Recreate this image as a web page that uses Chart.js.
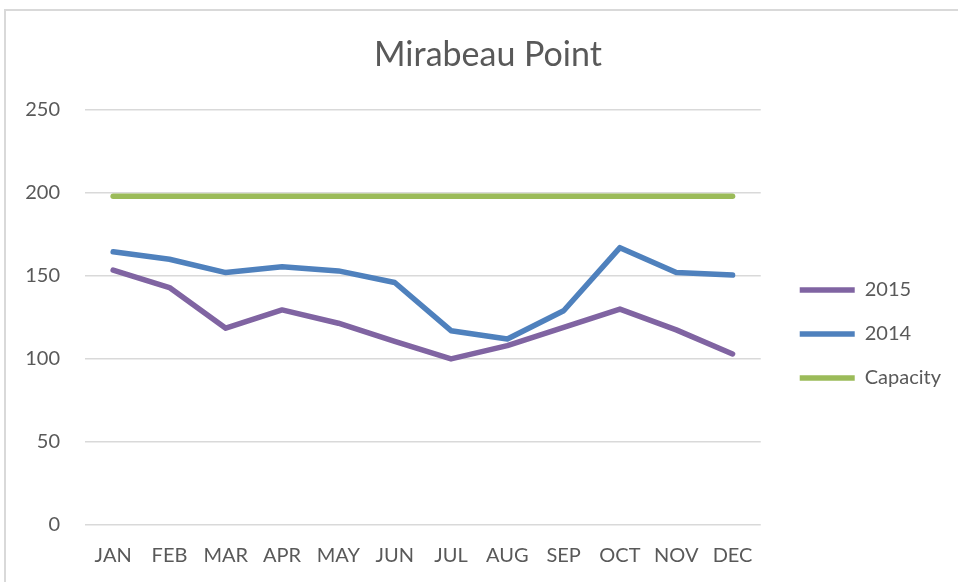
<!DOCTYPE html>
<html>
<head>
<meta charset="utf-8">
<script src="https://cdn.jsdelivr.net/npm/chart.js@4"></script>
<style>
  html, body { margin: 0; padding: 0; background: #fff; overflow: hidden; }
  #frame { position: absolute; left: 4px; top: 9px; width: 1000px; height: 600px;
           border-left: 2px solid #d9d9d9; border-top: 2px solid #d9d9d9; }
  #wrap { position: absolute; left: 0; top: 0; width: 958px; height: 582px; }
</style>
</head>
<body>
<div id="frame"></div>
<div id="wrap"><canvas id="chart"></canvas></div>
<script>
  const months = ["JAN", "FEB", "MAR", "APR", "MAY", "JUN", "JUL", "AUG", "SEP", "OCT", "NOV", "DEC"];
  const y2015 = [153.5, 143, 118.5, 129.5, 121.5, 110.5, 100, 108, 119, 130, 117.5, 103];
  const y2014 = [164.5, 160, 152, 155.5, 153, 146, 117, 112, 129, 167, 152, 150.5];
  const capacity = [198, 198, 198, 198, 198, 198, 198, 198, 198, 198, 198, 198];

  const textColor = "#595959";
  const font = "Lato";

  function series(label, data, color) {
    return {
      label,
      data,
      borderColor: color,
      backgroundColor: color,
      borderWidth: 5.5,
      borderCapStyle: "round",
      borderJoinStyle: "round",
      pointRadius: 0,
      pointHoverRadius: 0,
      tension: 0,
      fill: false,
    };
  }

  new Chart(document.getElementById("chart"), {
    type: "line",
    data: {
      labels: months,
      datasets: [
        series("2015", y2015, "#8064a2"),
        series("2014", y2014, "#4f81bd"),
        series("Capacity", capacity, "#9bbb59"),
      ],
    },
    options: {
      responsive: true,
      maintainAspectRatio: false,
      animation: false,
      layout: { padding: { left: 25, right: 7, top: 0, bottom: 0 } },
      plugins: {
        title: {
          display: true,
          text: "Mirabeau Point",
          color: textColor,
          font: { family: font, size: 34, weight: "normal" },
          padding: { top: 35, bottom: 34 },
        },
        legend: {
          position: "right",
          maxWidth: 400,
          // empty title only pushes the items down to match the reference
          title: { display: true, text: "", font: { family: font, size: 20 }, padding: { top: 31, bottom: 31 } },
          labels: {
            usePointStyle: true,
            pointStyle: "line",
            pointStyleWidth: 55,
            boxWidth: 55,
            padding: 24,
            color: textColor,
            font: { family: font, size: 20 },
          },
        },
        tooltip: { enabled: false },
      },
      scales: {
        x: {
          offset: true,
          grid: { display: false, drawTicks: false },
          border: { display: false },
          ticks: { color: textColor, font: { family: font, size: 20 }, padding: 19, maxRotation: 0 },
          afterFit: (s) => { s.height = 57; },
        },
        y: {
          min: 0,
          max: 250,
          grid: { color: "#d9d9d9", lineWidth: 1.5, drawTicks: false },
          border: { display: false },
          ticks: { stepSize: 50, color: textColor, font: { family: font, size: 20 }, padding: 25 },
          afterFit: (s) => { s.width = 60; },
        },
        gap: {
          position: "right",
          grid: { display: false, drawTicks: false },
          border: { display: false },
          ticks: { display: false },
          afterFit: (s) => { s.width = 15; },
        },
      },
    },
  });
</script>
</body>
</html>
